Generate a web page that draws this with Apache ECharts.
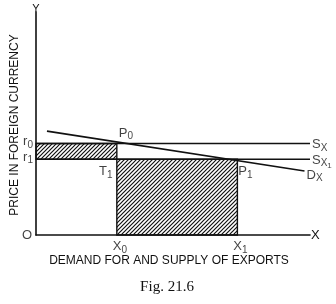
<!DOCTYPE html>
<html><head><meta charset="utf-8">
<script src="https://cdn.jsdelivr.net/npm/echarts@6/dist/echarts.min.js"></script>
<style>html,body{margin:0;padding:0;background:#fff}#c{width:336px;height:304px}</style>
</head><body><div id="c"></div>
<script>
// quantities X0, X1 and prices r0, r1
const quantities = [2.95, 7.35];
const prices = [4.1, 3.4];
const demandLine = [[0.4, 4.66], [9.8, 2.87]];
const supplyX = [0, 10];
const axisTitles = ['PRICE IN FOREIGN CURRENCY', 'DEMAND FOR AND SUPPLY OF EXPORTS'];
const caption = 'Fig. 21.6';

const FONT = 'Liberation Sans, Arial, sans-serif';
const [X0, X1] = quantities;
const [r0, r1] = prices;

// hatch pattern
const pat = document.createElement('canvas');
pat.width = 4; pat.height = 4;
const g = pat.getContext('2d');
g.strokeStyle = '#111'; g.lineWidth = 1.2;
g.beginPath();
g.moveTo(0, 4); g.lineTo(4, 0);
g.moveTo(-1, 1); g.lineTo(1, -1);
g.moveTo(3, 5); g.lineTo(5, 3);
g.stroke();

const rich = {
  m: {fontSize: 13, fontFamily: FONT, color: '#111'},
  s: {fontSize: 10, fontFamily: FONT, color: '#111', padding: [7, 0, 0, 0]},
  ss: {fontSize: 8, fontFamily: FONT, color: '#111', padding: [12, 0, 0, 0]}
};
function lab(text, position, distance, offset) {
  return {show: true, formatter: text, position, distance, offset: offset || [0, 0], rich};
}
const pts = [
  {value: [0, r0], label: lab('{m|r}{s|0}', 'left', 3, [0, -2])},
  {value: [0, r1], label: lab('{m|r}{s|1}', 'left', 3, [0, -2])},
  {value: [0, 0], label: lab('{m|O}', 'left', 4, [0, 0])},
  {value: [X0, r0], label: lab('{m|P}{s|0}', 'top', 2, [9, 0])},
  {value: [X0, r1], label: lab('{m|T}{s|1}', 'bottom', 4, [-11, 0])},
  {value: [X1, r1], label: lab('{m|P}{s|1}', 'bottom', 4, [8, 0])},
  {value: [X0, 0], label: lab('{m|X}{s|0}', 'bottom', 3, [3, 0])},
  {value: [X1, 0], label: lab('{m|X}{s|1}', 'bottom', 3, [3, 0])},
  {value: [supplyX[1], r0], label: lab('{m|S}{s|X}', 'right', 2, [0, 1])},
  {value: [supplyX[1], r1], label: lab('{m|S}{s|X}{ss|1}', 'right', 2, [0, 1])},
  {value: demandLine[1], label: lab('{m|D}{s|X}', 'right', 2, [0, 4])}
];

const lineStyle = {color: '#111', width: 1.5};
const chart = echarts.init(document.getElementById('c'), null, {renderer: 'canvas'});
chart.setOption({
  animation: false,
  backgroundColor: '#fff',
  grid: {left: 36, right: 26, top: 12, bottom: 69},
  xAxis: {type: 'value', min: 0, max: 10, splitLine: {show: false}, axisTick: {show: false}, axisLabel: {show: false},
    axisLine: {lineStyle: {color: '#111', width: 1.6}},
    name: 'X', nameLocation: 'end', nameGap: 1, nameTextStyle: {fontFamily: FONT, fontSize: 13, color: '#111', verticalAlign: 'middle'}},
  yAxis: {type: 'value', min: 0, max: 10, splitLine: {show: false}, axisTick: {show: false}, axisLabel: {show: false},
    axisLine: {lineStyle: {color: '#111', width: 1.6}},
    name: 'Y', nameLocation: 'end', nameGap: 1, nameTextStyle: {fontFamily: FONT, fontSize: 11, color: '#111', align: 'center', padding: [0, 0, -3, 0]}},
  series: [
    {type: 'line', data: [[supplyX[0], r0], [supplyX[1], r0]], symbol: 'none', lineStyle, z: 5,
      markArea: {silent: true, itemStyle: {color: {image: pat, repeat: 'repeat'}, borderColor: '#111', borderWidth: 1.4},
        data: [
          [{coord: [0, r1]}, {coord: [X0, r0]}],
          [{coord: [X0, 0]}, {coord: [X1, r1]}]
        ]}},
    {type: 'line', data: [[supplyX[0], r1], [supplyX[1], r1]], symbol: 'none', lineStyle, z: 5},
    {type: 'line', data: demandLine, symbol: 'none', lineStyle: {color: '#111', width: 1.7}, z: 5},
    {type: 'scatter', data: pts, symbolSize: 0, z: 6}
  ],
  graphic: [
    {type: 'text', x: 15, y: 125, rotation: Math.PI / 2,
      style: {text: axisTitles[0], font: '12px ' + FONT, fill: '#111', textAlign: 'center', textVerticalAlign: 'middle'}},
    {type: 'text', x: 169, y: 261, style: {text: axisTitles[1], font: '12px ' + FONT, fill: '#111', textAlign: 'center', textVerticalAlign: 'middle'}},
    {type: 'text', x: 167, y: 287, style: {text: caption, font: '15px "Liberation Serif", "Times New Roman", serif', fill: '#111', textAlign: 'center', textVerticalAlign: 'middle'}}
  ]
});
</script></body></html>
